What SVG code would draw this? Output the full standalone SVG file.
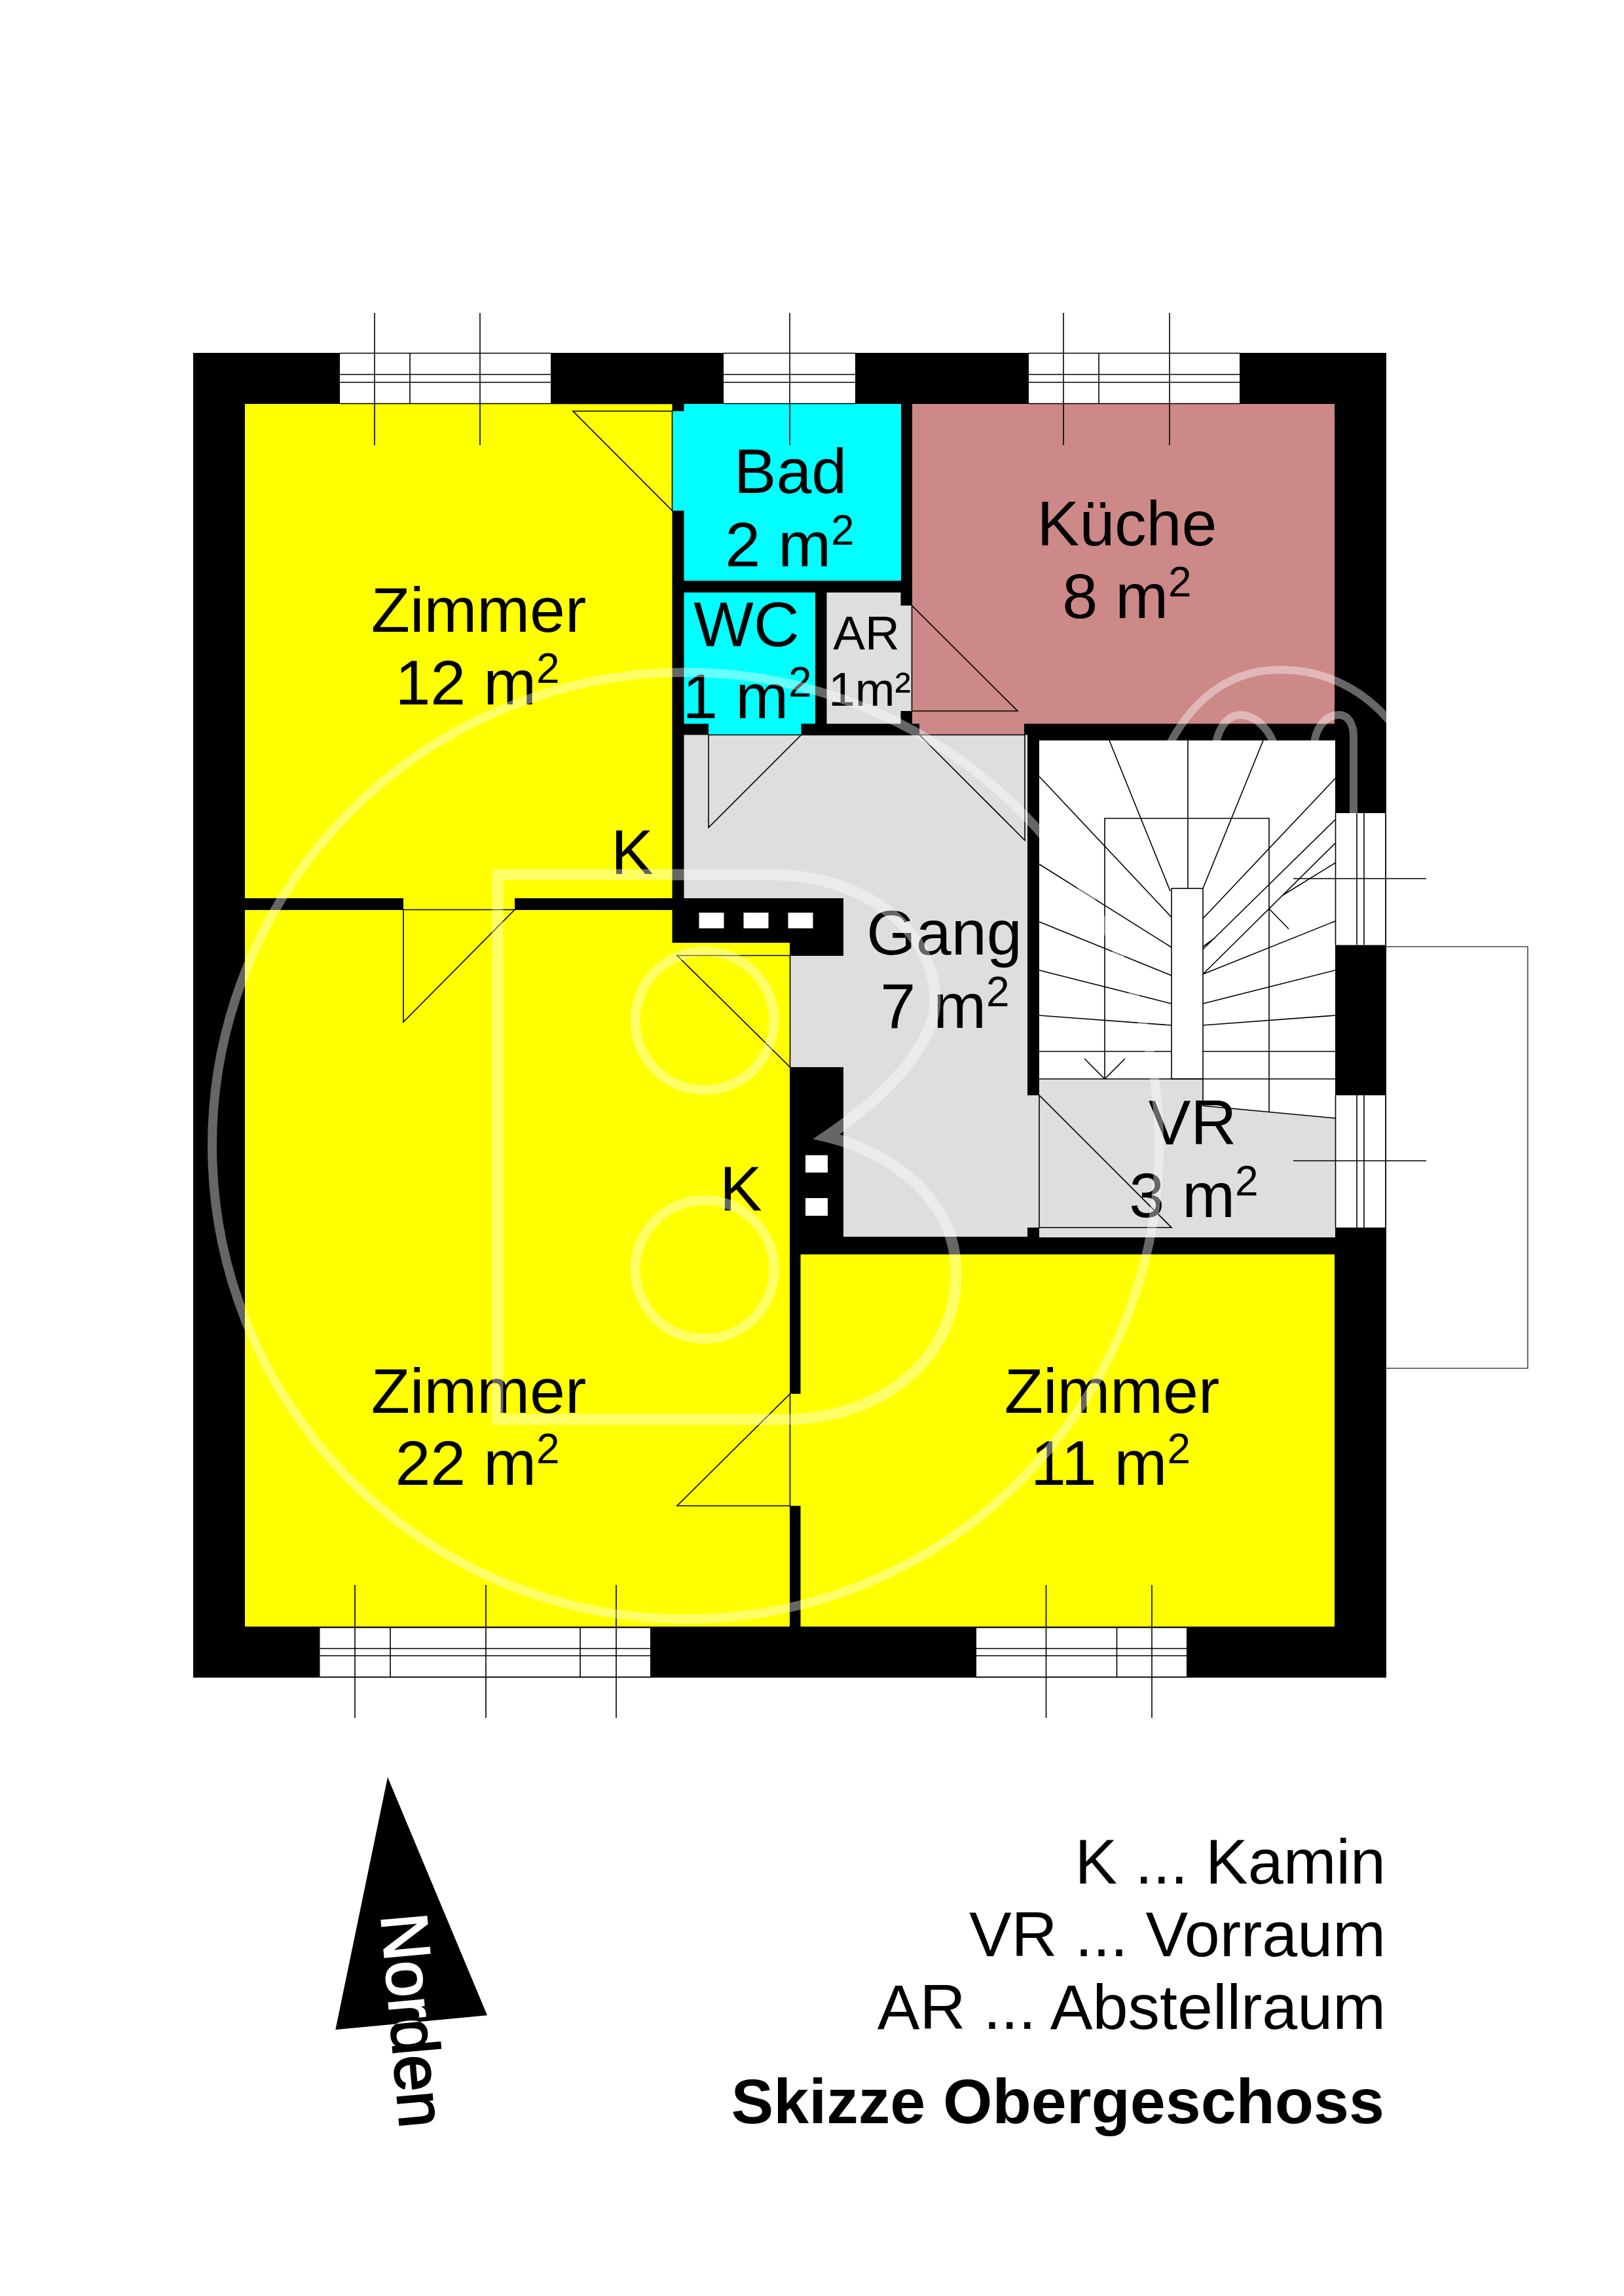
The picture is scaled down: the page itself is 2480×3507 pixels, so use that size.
<svg xmlns="http://www.w3.org/2000/svg" width="2480" height="3507" viewBox="0 0 2480 3507">
<style>
text{font-family:"Liberation Sans",Arial,sans-serif;font-size:97px;fill:#000}
.m{text-anchor:middle}
.e{text-anchor:end}
.sup{font-size:64px}
.ar{font-size:73px}
.bold{font-weight:bold}
.y{fill:#ffff00}.c{fill:#00ffff}.g{fill:#dedede}.p{fill:#cd8888}.w{fill:#fff}
.l{stroke:#000;stroke-width:1.6;fill:none}
.wm{stroke:#fff;stroke-opacity:.4;stroke-width:14;fill:none;stroke-miterlimit:10}
</style>
<rect width="2480" height="3507" fill="#fff"/>
<rect id="walls" x="295" y="539" width="1822" height="2023.5" fill="#000"/>

<g id="zimmer-12">
<polygon class="y" points="374,617 1026.5,617 1026.5,1372 786,1372 786,1390 616,1390 616,1372 374,1372"/>
<text class="m" x="731" y="965">Zimmer</text>
<text class="m" x="729" y="1076">12 m<tspan class="sup" dy="-33">2</tspan></text>
</g>
<g id="zimmer-22">
<polygon class="y" points="374,1390 1026.5,1390 1026.5,1440 1206,1440 1206,2484.5 374,2484.5"/>
<text class="m" x="731" y="2158">Zimmer</text>
<text class="m" x="729" y="2268">22 m<tspan class="sup" dy="-33">2</tspan></text>
</g>
<g id="zimmer-11">
<polygon class="y" points="1222.5,1916 2038,1916 2038,2484.5 1222.5,2484.5 1222.5,2300 1206,2300 1206,2129 1222.5,2129"/>
<text class="m" x="1698" y="2158">Zimmer</text>
<text class="m" x="1696" y="2268">11 m<tspan class="sup" dy="-33">2</tspan></text>
</g>
<g id="bad">
<polygon class="c" points="1044.5,617 1376,617 1376,887 1044.5,887 1044.5,780 1026.5,780 1026.5,628 1044.5,628"/>
<text class="m" x="1207" y="753">Bad</text>
<text class="m" x="1206" y="865">2 m<tspan class="sup" dy="-33">2</tspan></text>
</g>
<g id="wc">
<polygon class="c" points="1044.5,905 1245,905 1245,1105.5 1223.5,1105.5 1223.5,1122.5 1082,1122.5 1082,1105.5 1044.5,1105.5"/>
<text class="m" x="1140" y="987">WC</text>
<text class="m" x="1141" y="1097">1 m<tspan class="sup" dy="-33">2</tspan></text>
</g>
<g id="ar">
<polygon class="g" points="1262.5,905 1375.5,905 1375.5,925 1392.5,925 1392.5,1086 1375.5,1086 1375.5,1105.5 1262.5,1105.5"/>
<text class="m ar" x="1323" y="992">AR</text>
<text class="m ar" x="1328" y="1078">1m²</text>
</g>
<g id="kueche">
<polygon class="p" points="1393,617 2038,617 2038,1105.5 1564,1105.5 1564,1122.5 1404,1122.5 1404,1105.5 1393,1105.5"/>
<text class="m" x="1721" y="833">Küche</text>
<text class="m" x="1721" y="944">8 m<tspan class="sup" dy="-33">2</tspan></text>
</g>
<g id="gang">
<polygon class="g" points="1044.5,1122.5 1569,1122.5 1569,1673 1587,1673 1587,1875 1569,1875 1569,1889 1288,1889 1288,1630 1206.5,1630 1206.5,1460 1288,1460 1288,1372 1044.5,1372"/>
<text class="m" x="1442" y="1458">Gang</text>
<text class="m" x="1443" y="1570">7 m<tspan class="sup" dy="-33">2</tspan></text>
</g>
<g id="vorraum">
<polygon class="g" points="1587,1648 1837,1648 1837,1689 2039,1708 2039,1890 1587,1890"/>
</g>
<g id="treppe">
<polygon class="w" points="1587,1131 2039,1131 2039,1708 1837,1689 1837,1648 1587,1648"/>
<path class="l" d="M1694,1131L1787,1361M1814,1131V1357M1929,1131L1837,1357
M1587,1186L1789,1401M1587,1320L1789,1447M1587,1408L1789,1490M1587,1482L1789,1533M1587,1551L1789,1566M1587,1606H1789
M2039,1189L1837,1403M2039,1252L1837,1450M2039,1288L1837,1488M2039,1318L1958,1368M1855,1433L1837,1446M2039,1407L1837,1488M2039,1482L1837,1533M2039,1551L1837,1566M2039,1606H1837
M1687,1648V1250H1938V1698M1656,1617L1687,1648L1718,1617M1938,1388L1968,1419
M1569,1648H2039M1837,1648V1689L2039,1708"/>
<rect class="l" x="1789" y="1357" width="48" height="291"/>
</g>
<g id="fenster">
<rect class="w" x="519" y="539" width="322" height="77"/>
<rect class="w" x="1105" y="539" width="201" height="77"/>
<rect class="w" x="1571" y="539" width="322" height="77"/>
<rect class="w" x="488.500" y="2486" width="504.500" height="76"/>
<rect class="w" x="1491" y="2486" width="321" height="76"/>
<rect class="w" x="2040" y="1242" width="76" height="201.500"/>
<rect class="w" x="2040" y="1673" width="76" height="202"/>
<path class="l" d="M519,539.500H841M519,572H841M519,584H841M519,616.500H1026M626,539V616M572,478V680M733,478V680
M1105,539.500H1306M1105,572H1306M1105,584H1306M1105,616.500H1306M1206,478V680
M1571,539.500H1893M1571,572H1893M1571,584H1893M1571,616.500H1893M1678,539V616M1624,478V680M1786,478V680
M488.500,2486H993M488.500,2518H993M488.500,2529H993M488.500,2561.500H993M596,2486V2562M886,2486V2562M542,2421V2624M742,2421V2624M941,2421V2624
M1491,2486H1812M1491,2518H1812M1491,2529H1812M1491,2561.500H1812M1705.500,2486V2562M1597.500,2421V2624M1759,2421V2624
M2039.500,1242V1443M2072,1242V1443M2083,1242V1443M2116,1242V1443M1975,1342H2178
M2039.500,1673V1875M2072,1673V1875M2083,1673V1875M2116,1673V1875M1975,1773H2178"/>
<path id="balkon" d="M2117,1446H2333V2090H2117" fill="none" stroke="#444" stroke-width="1.600"/>
</g>
<g id="kamin">
<g fill="#fff">
<rect x="1067.500" y="1394" width="38" height="24"/>
<rect x="1135.500" y="1394" width="38" height="24"/>
<rect x="1203.500" y="1394" width="38" height="24"/>
<rect x="1230" y="1764.500" width="34" height="26.500"/>
<rect x="1230" y="1830" width="34" height="27"/>
</g>
<text x="933" y="1335">K</text>
<text x="1099" y="1849">K</text>
</g>
<g id="tueren">
<path class="l" d="M875,628H1026.500V780ZM616,1389.500V1561L786,1389.500ZM1082,1122.500V1264L1223.500,1122.500ZM1392.500,925V1086H1554ZM1404,1122.500L1565,1283.500V1122.500H1082M1034,1459.500H1206.500V1630ZM1206.500,2129V2300H1034ZM1587,1673V1875H1789Z"/>
</g>
<text class="m" x="1821" y="1748">VR</text>
<text class="m" x="1823" y="1859">3 m<tspan class="sup" dy="-33">2</tspan></text>
<g id="wasserzeichen" class="wm">
<circle cx="1047" cy="1750" r="723"/>
<circle cx="1076" cy="1559" r="106" stroke-width="15"/>
<circle cx="1076" cy="1939" r="106" stroke-width="15"/>
<path stroke-width="17" d="M760,2168V1336H1175C1320,1336 1428,1420 1428,1530C1428,1590 1360,1670 1262,1736C1360,1760 1460,1830 1460,1945C1460,2080 1340,2168 1200,2168Z"/>
<path stroke-width="12" d="M1787,1135C1830,1055 1890,1023 1955,1023C2020,1023 2080,1050 2125,1105"/>
<path stroke-width="12" d="M1857,1135C1862,1110 1875,1092 1895,1092C1915,1092 1935,1110 1945,1135"/>
<path stroke-width="12" d="M2007,1135C2010,1110 2025,1092 2045,1092C2058,1092 2067,1105 2067,1125V1243"/>
</g>
<g id="legende">
<text class="e" x="2116" y="2877">K ... Kamin</text>
<text class="e" x="2116" y="2988">VR ... Vorraum</text>
<text class="e" x="2116" y="3099">AR ... Abstellraum</text>
<text class="e bold" x="2114" y="3243">Skizze Obergeschoss</text>
</g>
<g id="nordpfeil">
<polygon points="592,2714.500 744,3078.300 512.300,3100.300" fill="#000"/>
<text transform="translate(582,2925.500) rotate(84.900)" style="fill:#fff;stroke:#fff;stroke-width:2.500px;font-size:100px;mix-blend-mode:difference">Norden</text>
</g>
</svg>
